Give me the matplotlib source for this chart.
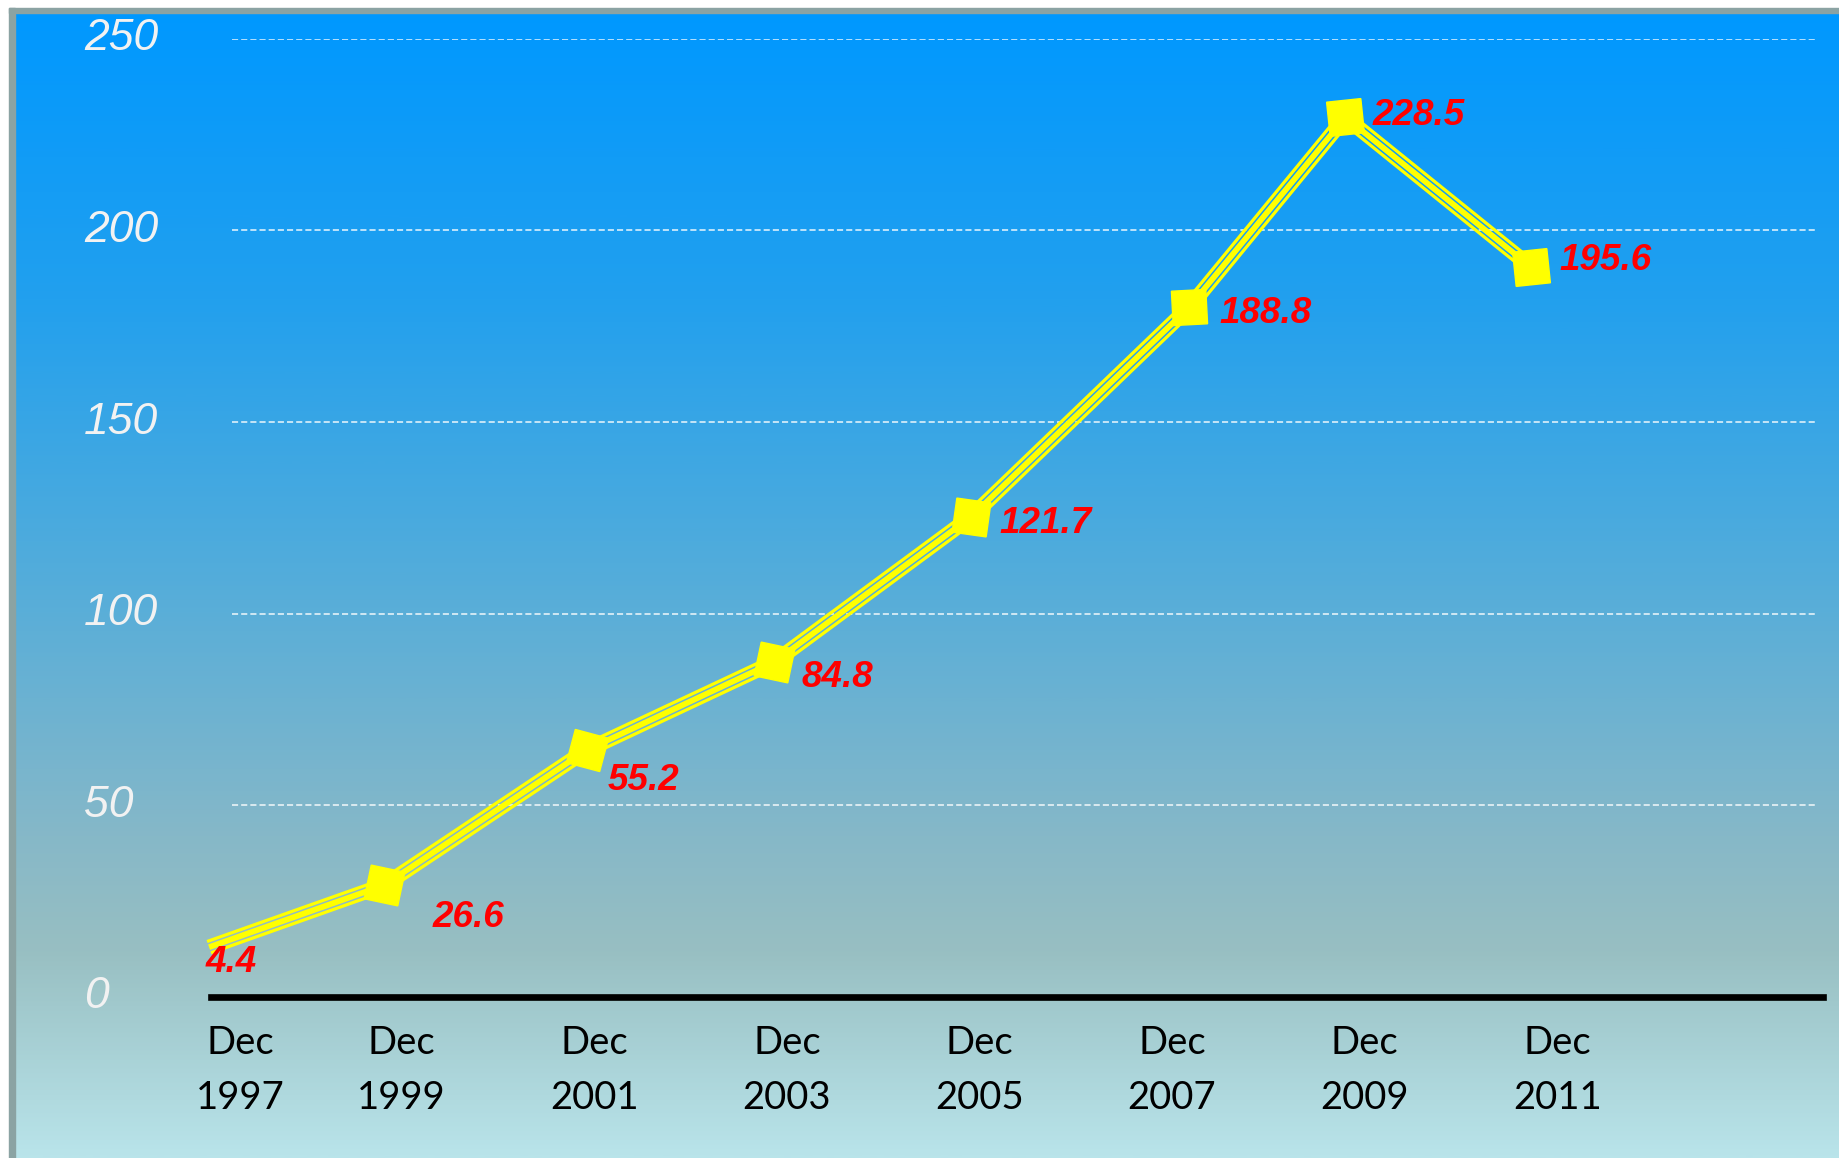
import numpy as np
import matplotlib
matplotlib.use("Agg")
import matplotlib.pyplot as plt
from matplotlib.colors import LinearSegmentedColormap
from matplotlib.patches import Rectangle
from matplotlib.transforms import blended_transform_factory

# data (plotted positions; labels are the printed values)
x_pos = [1997.0, 1998.82, 2000.92, 2002.87, 2004.91, 2007.18, 2008.80, 2010.73]
y_pos = [13.0, 29.2, 64.4, 87.4, 125.2, 180.0, 229.5, 190.4]
value_labels = ['4.4', '26.6', '55.2', '84.8', '121.7', '188.8', '228.5', '195.6']
tick_pos = [1997.32, 1999, 2001, 2003, 2005, 2007, 2009, 2011]
tick_labels = ['Dec\n1997', 'Dec\n1999', 'Dec\n2001', 'Dec\n2003',
               'Dec\n2005', 'Dec\n2007', 'Dec\n2009', 'Dec\n2011']
y_ticks = [0, 50, 100, 150, 200, 250]

# styling bits
label_offsets_px = [(-3, 15), (48, 32), (21, 30), (27, 16), (29, 6), (30, 6), (27, -2), (28, -7)]
marker_tilt = [0, -12, -15, -12, -8, 3, 6, 6]

W, H = 1839, 1158
fig = plt.figure(figsize=(W / 100, H / 100), dpi=100)
fig.patch.set_facecolor('white')

# gradient background
bg = fig.add_axes([15 / W, 0, 1 - 15 / W, 1 - 13 / H])
bg.set_axis_off()
cmap = LinearSegmentedColormap.from_list('bg', [
    (0.0, '#0098FF'), (0.25, '#22A0EE'), (0.5, '#55ADDA'),
    (0.72, '#86B8C8'), (0.82, '#98BFC2'), (1.0, '#B9E4EA')])
grad = np.linspace(0, 1, 512)[:, None]
bg.imshow(grad, aspect='auto', cmap=cmap, extent=[0, 1, 1, 0])

# grey frame on left and top
fig.patches.append(Rectangle((9 / W, 0), 6 / W, 1 - 8 / H, transform=fig.transFigure,
                             color='#8BA3A3', zorder=1))
fig.patches.append(Rectangle((9 / W, 1 - 13 / H), 1 - 9 / W, 5 / H, transform=fig.transFigure,
                             color='#8BA3A3', zorder=1))

ax = fig.add_axes([211 / W, 1 - 997 / H, (1823 - 211) / W, (997 - 38.7) / H])
ax.set_zorder(2)
ax.patch.set_alpha(0)
for s in ax.spines.values():
    s.set_visible(False)
ax.set_xlim(1997.02, 2013.76)
ax.set_ylim(0, 250)

# dashed gridlines
for v in y_ticks[1:]:
    ax.axhline(v, xmin=(232 - 211) / 1612, xmax=(1816 - 211) / 1612, color='white',
               lw=1.1, dashes=(4, 2), alpha=0.9, zorder=1)
ax.axhline(0, color='black', lw=4.8, clip_on=False, zorder=2)

# y labels, left aligned near the figure edge
trans = blended_transform_factory(fig.transFigure, ax.transData)
ax.set_yticks([])
for v in y_ticks:
    ax.text(84 / W, v, str(v), transform=trans, ha='left', va='center', fontsize=32,
            style='italic', color='#F2F2F2', family='Liberation Sans', clip_on=False)

ax.set_xticks(tick_pos)
ax.set_xticklabels(tick_labels, fontsize=27.5, family='Lato', color='black', linespacing=1.68)
ax.tick_params(axis='x', length=0, pad=20)


# triple "thin-thick-thin" line
def offset_line(pts, d):
    seg = np.diff(pts, axis=0)
    seg = seg / np.linalg.norm(seg, axis=1)[:, None]
    nrm = np.column_stack([-seg[:, 1], seg[:, 0]])
    out = []
    for i in range(len(pts)):
        if i == 0:
            n = nrm[0]
        elif i == len(pts) - 1:
            n = nrm[-1]
        else:
            m = nrm[i - 1] + nrm[i]
            m = m / np.linalg.norm(m)
            n = m / np.dot(m, nrm[i])
        out.append(pts[i] + n * d)
    return np.array(out)


disp = ax.transData.transform(np.column_stack([x_pos, y_pos]))
inv = ax.transData.inverted()
for d, w in [(-6, 3.2), (0, 5.8), (6, 3.2)]:
    line = inv.transform(offset_line(disp, d))
    ax.plot(line[:, 0], line[:, 1], color='#FFFF00', lw=w * 0.72,
            solid_joinstyle='miter', solid_capstyle='butt', zorder=3, clip_on=False)

for i in range(1, len(x_pos)):
    ax.plot(x_pos[i], y_pos[i], marker=(4, 0, 45 + marker_tilt[i]), ms=35,
            color='#FFFF00', mec='#FFFF00', zorder=4, clip_on=False)

for i, lab in enumerate(value_labels):
    dx, dy = label_offsets_px[i]
    ax.annotate(lab, (x_pos[i], y_pos[i]), xytext=(dx * 0.72, -dy * 0.72),
                textcoords='offset points', ha='left', va='center', fontsize=26.5,
                color='#FF0000', weight='bold', style='italic', family='Liberation Sans',
                zorder=5, annotation_clip=False)

fig.savefig('out.png', dpi=100)
